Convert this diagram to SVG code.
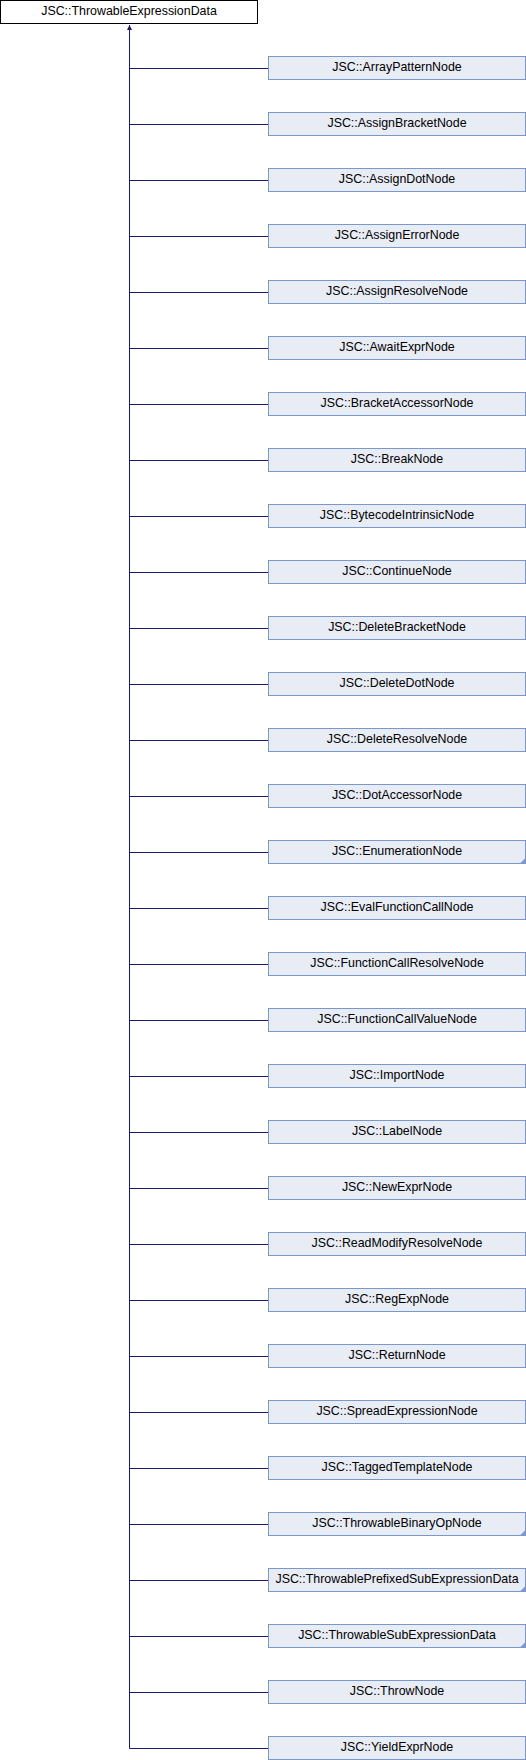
<svg xmlns="http://www.w3.org/2000/svg" width="526" height="1760" viewBox="0 0 526 1760">
<style>
.n rect{fill:#e8ecf5;stroke:#7b98cc;stroke-width:1}
.t{font-family:"Liberation Sans",Arial,sans-serif;font-size:12.4px;fill:#000;text-anchor:middle}
.e{stroke:#191970;stroke-width:1;fill:none}
.c{fill:#7b98cc}
</style>
<defs>
<marker id="ah" viewBox="0 0 10 10" refX="10" refY="5" markerWidth="5" markerHeight="5" markerUnits="userSpaceOnUse" orient="auto">
<path d="M0,0 L10,5 L0,10 Z" fill="#191970"/>
</marker>
</defs>
<g id="root">
<rect x="0.5" y="0.5" width="257" height="23" fill="#ffffff" stroke="#000000"/>
<text class="t" x="129" y="15.3">JSC::ThrowableExpressionData</text>
</g>
<g id="edges">
<path class="e" d="M129.5,1748.5 V25" marker-end="url(#ah)"/>
<path class="e" d="M129.5,68.5H268 M129.5,124.5H268 M129.5,180.5H268 M129.5,236.5H268 M129.5,292.5H268 M129.5,348.5H268 M129.5,404.5H268 M129.5,460.5H268 M129.5,516.5H268 M129.5,572.5H268 M129.5,628.5H268 M129.5,684.5H268 M129.5,740.5H268 M129.5,796.5H268 M129.5,852.5H268 M129.5,908.5H268 M129.5,964.5H268 M129.5,1020.5H268 M129.5,1076.5H268 M129.5,1132.5H268 M129.5,1188.5H268 M129.5,1244.5H268 M129.5,1300.5H268 M129.5,1356.5H268 M129.5,1412.5H268 M129.5,1468.5H268 M129.5,1524.5H268 M129.5,1580.5H268 M129.5,1636.5H268 M129.5,1692.5H268 M129.5,1748.5H268"/>
</g>
<g id="n0" class="n"><rect x="268.5" y="56.5" width="257" height="23"/><text class="t" x="397" y="71.3">JSC::ArrayPatternNode</text></g>
<g id="n1" class="n"><rect x="268.5" y="112.5" width="257" height="23"/><text class="t" x="397" y="127.3">JSC::AssignBracketNode</text></g>
<g id="n2" class="n"><rect x="268.5" y="168.5" width="257" height="23"/><text class="t" x="397" y="183.3">JSC::AssignDotNode</text></g>
<g id="n3" class="n"><rect x="268.5" y="224.5" width="257" height="23"/><text class="t" x="397" y="239.3">JSC::AssignErrorNode</text></g>
<g id="n4" class="n"><rect x="268.5" y="280.5" width="257" height="23"/><text class="t" x="397" y="295.3">JSC::AssignResolveNode</text></g>
<g id="n5" class="n"><rect x="268.5" y="336.5" width="257" height="23"/><text class="t" x="397" y="351.3">JSC::AwaitExprNode</text></g>
<g id="n6" class="n"><rect x="268.5" y="392.5" width="257" height="23"/><text class="t" x="397" y="407.3">JSC::BracketAccessorNode</text></g>
<g id="n7" class="n"><rect x="268.5" y="448.5" width="257" height="23"/><text class="t" x="397" y="463.3">JSC::BreakNode</text></g>
<g id="n8" class="n"><rect x="268.5" y="504.5" width="257" height="23"/><text class="t" x="397" y="519.3">JSC::BytecodeIntrinsicNode</text></g>
<g id="n9" class="n"><rect x="268.5" y="560.5" width="257" height="23"/><text class="t" x="397" y="575.3">JSC::ContinueNode</text></g>
<g id="n10" class="n"><rect x="268.5" y="616.5" width="257" height="23"/><text class="t" x="397" y="631.3">JSC::DeleteBracketNode</text></g>
<g id="n11" class="n"><rect x="268.5" y="672.5" width="257" height="23"/><text class="t" x="397" y="687.3">JSC::DeleteDotNode</text></g>
<g id="n12" class="n"><rect x="268.5" y="728.5" width="257" height="23"/><text class="t" x="397" y="743.3">JSC::DeleteResolveNode</text></g>
<g id="n13" class="n"><rect x="268.5" y="784.5" width="257" height="23"/><text class="t" x="397" y="799.3">JSC::DotAccessorNode</text></g>
<g id="n14" class="n"><rect x="268.5" y="840.5" width="257" height="23"/><text class="t" x="397" y="855.3">JSC::EnumerationNode</text><path class="c" d="M525.5,858 V863.5 H520 Z"/></g>
<g id="n15" class="n"><rect x="268.5" y="896.5" width="257" height="23"/><text class="t" x="397" y="911.3">JSC::EvalFunctionCallNode</text></g>
<g id="n16" class="n"><rect x="268.5" y="952.5" width="257" height="23"/><text class="t" x="397" y="967.3">JSC::FunctionCallResolveNode</text></g>
<g id="n17" class="n"><rect x="268.5" y="1008.5" width="257" height="23"/><text class="t" x="397" y="1023.3">JSC::FunctionCallValueNode</text></g>
<g id="n18" class="n"><rect x="268.5" y="1064.5" width="257" height="23"/><text class="t" x="397" y="1079.3">JSC::ImportNode</text></g>
<g id="n19" class="n"><rect x="268.5" y="1120.5" width="257" height="23"/><text class="t" x="397" y="1135.3">JSC::LabelNode</text></g>
<g id="n20" class="n"><rect x="268.5" y="1176.5" width="257" height="23"/><text class="t" x="397" y="1191.3">JSC::NewExprNode</text></g>
<g id="n21" class="n"><rect x="268.5" y="1232.5" width="257" height="23"/><text class="t" x="397" y="1247.3">JSC::ReadModifyResolveNode</text></g>
<g id="n22" class="n"><rect x="268.5" y="1288.5" width="257" height="23"/><text class="t" x="397" y="1303.3">JSC::RegExpNode</text></g>
<g id="n23" class="n"><rect x="268.5" y="1344.5" width="257" height="23"/><text class="t" x="397" y="1359.3">JSC::ReturnNode</text></g>
<g id="n24" class="n"><rect x="268.5" y="1400.5" width="257" height="23"/><text class="t" x="397" y="1415.3">JSC::SpreadExpressionNode</text></g>
<g id="n25" class="n"><rect x="268.5" y="1456.5" width="257" height="23"/><text class="t" x="397" y="1471.3">JSC::TaggedTemplateNode</text></g>
<g id="n26" class="n"><rect x="268.5" y="1512.5" width="257" height="23"/><text class="t" x="397" y="1527.3">JSC::ThrowableBinaryOpNode</text><path class="c" d="M525.5,1530 V1535.5 H520 Z"/></g>
<g id="n27" class="n"><rect x="268.5" y="1568.5" width="257" height="23"/><text class="t" x="397" y="1583.3">JSC::ThrowablePrefixedSubExpressionData</text><path class="c" d="M525.5,1586 V1591.5 H520 Z"/></g>
<g id="n28" class="n"><rect x="268.5" y="1624.5" width="257" height="23"/><text class="t" x="397" y="1639.3">JSC::ThrowableSubExpressionData</text><path class="c" d="M525.5,1642 V1647.5 H520 Z"/></g>
<g id="n29" class="n"><rect x="268.5" y="1680.5" width="257" height="23"/><text class="t" x="397" y="1695.3">JSC::ThrowNode</text></g>
<g id="n30" class="n"><rect x="268.5" y="1736.5" width="257" height="23"/><text class="t" x="397" y="1751.3">JSC::YieldExprNode</text></g>
</svg>
